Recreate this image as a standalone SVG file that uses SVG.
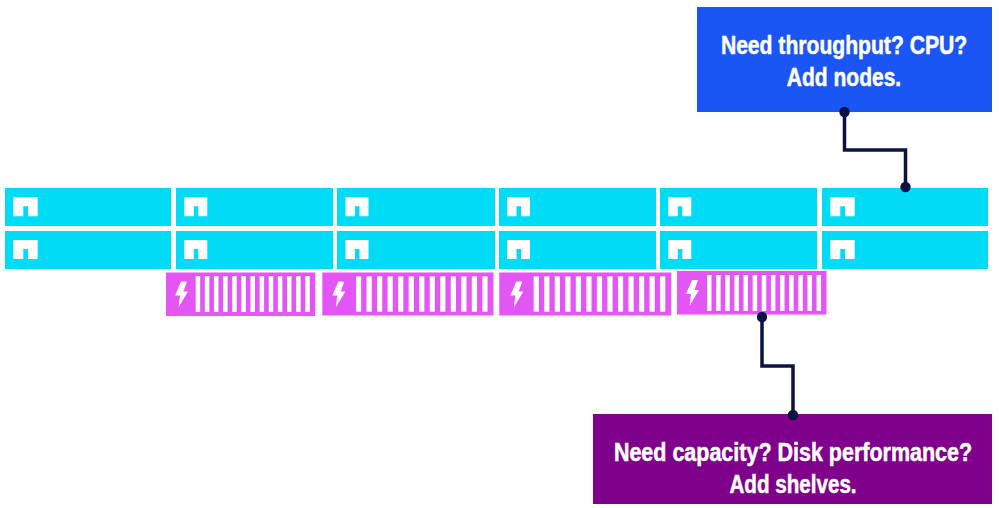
<svg xmlns="http://www.w3.org/2000/svg" width="999" height="508" viewBox="0 0 999 508">
<style>
.node{fill:#00dcf5}
.ico{fill:#fff}
.shelf{fill:#e356f5}
.w{fill:#fff}
.conn{fill:none;stroke:#0a1344;stroke-width:3.500}
.dot{fill:#0a1344}
.t{font-family:"Liberation Sans",Arial,sans-serif;font-weight:700;font-size:25px;fill:#fff;stroke:#fff;stroke-width:.5px;text-anchor:middle}
</style>
<defs>
<path id="i" d="M0 0H23V19H14V9H9.500V19H0Z"/>
<path id="iw" d="M0 0H24.400V19H14.700V9H10V19H0Z"/>
<path id="b" d="M6 0H12L8.500 10H13L3.500 26L5 14H0Z"/>
<path id="bars-s" d="M0 0h4.500v36h-4.500zM9.130 0h4.500v36h-4.500zM18.260 0h4.500v36h-4.500zM27.390 0h4.500v36h-4.500zM36.520 0h4.500v36h-4.500zM45.650 0h4.500v36h-4.500zM54.780 0h4.500v36h-4.500zM63.910 0h4.500v36h-4.500zM73.040 0h4.500v36h-4.500zM82.170 0h4.500v36h-4.500zM91.300 0h4.500v36h-4.500zM100.430 0h4.500v36h-4.500zM109.560 0h4.500v36h-4.500z"/>
<path id="bars-l" d="M0 0h5.200v35.500h-5.200zM10.530 0h5.200v35.500h-5.200zM21.060 0h5.200v35.500h-5.200zM31.590 0h5.200v35.500h-5.200zM42.120 0h5.200v35.500h-5.200zM52.650 0h5.200v35.500h-5.200zM63.180 0h5.200v35.500h-5.200zM73.710 0h5.200v35.500h-5.200zM84.240 0h5.200v35.500h-5.200zM94.770 0h5.200v35.500h-5.200zM105.300 0h5.200v35.500h-5.200zM115.830 0h5.200v35.500h-5.200zM126.360 0h5.200v35.500h-5.200z"/>
</defs>
<rect width="999" height="508" fill="#fff"/>
<g id="box-nodes"><rect x="697" y="7" width="295" height="105" fill="#1b55f5"/>
<text class="t" transform="translate(844 54) scale(.845 1)">Need throughput? CPU?</text>
<text class="t" transform="translate(844 86) scale(.84 1)">Add nodes.</text></g>
<g id="box-shelves"><rect x="593" y="414" width="399" height="90" fill="#7f008a"/>
<text class="t" transform="translate(793 461) scale(.86 1)">Need capacity? Disk performance?</text>
<text class="t" transform="translate(793 493) scale(.825 1)">Add shelves.</text></g>
<g id="n1"><rect class="node" x="5" y="188" width="166" height="38"/><use class="ico" href="#iw" x="13.300" y="197.300"/></g>
<g id="n2"><rect class="node" x="176" y="188" width="157" height="38"/><use class="ico" href="#i" x="184.300" y="197.300"/></g>
<g id="n3"><rect class="node" x="337" y="188" width="158" height="38"/><use class="ico" href="#i" x="345.500" y="197.300"/></g>
<g id="n4"><rect class="node" x="499" y="188" width="157" height="38"/><use class="ico" href="#i" x="507" y="197.300"/></g>
<g id="n5"><rect class="node" x="660" y="188" width="157" height="38"/><use class="ico" href="#i" x="668.300" y="197.300"/></g>
<g id="n6"><rect class="node" x="822" y="188" width="166" height="38"/><use class="ico" href="#iw" x="830.300" y="197.300"/></g>
<g id="n7"><rect class="node" x="5" y="231" width="166" height="38"/><use class="ico" href="#iw" x="13.300" y="240"/></g>
<g id="n8"><rect class="node" x="176" y="231" width="157" height="38"/><use class="ico" href="#i" x="184.300" y="240"/></g>
<g id="n9"><rect class="node" x="337" y="231" width="158" height="38"/><use class="ico" href="#i" x="345.500" y="240"/></g>
<g id="n10"><rect class="node" x="499" y="231" width="157" height="38"/><use class="ico" href="#i" x="507" y="240"/></g>
<g id="n11"><rect class="node" x="660" y="231" width="157" height="38"/><use class="ico" href="#i" x="668.300" y="240"/></g>
<g id="n12"><rect class="node" x="822" y="231" width="166" height="38"/><use class="ico" href="#iw" x="830.300" y="240"/></g>
<g id="s1"><rect class="shelf" x="166" y="272.500" width="149.300" height="43.500"/><use class="w" href="#b" x="175" y="281.500"/><use class="w" href="#bars-s" x="195.700" y="276"/></g>
<g id="s2"><rect class="shelf" x="322.300" y="272.500" width="171.200" height="43"/><use class="w" href="#b" x="332.300" y="281.500"/><use class="w" href="#bars-l" x="356" y="276.300"/></g>
<g id="s3"><rect class="shelf" x="499.300" y="272.500" width="172" height="43"/><use class="w" href="#b" x="510.300" y="281.500"/><use class="w" href="#bars-l" x="533.700" y="276.300"/></g>
<g id="s4"><rect class="shelf" x="677" y="271" width="149.500" height="43.500"/><use class="w" href="#b" x="686" y="280"/><use class="w" href="#bars-s" x="707" y="275"/></g>
<g id="connectors">
<path class="conn" d="M844.500 112V150H905.500V187"/><circle class="dot" cx="844.500" cy="112" r="5.200"/><circle class="dot" cx="905.500" cy="187" r="5.200"/>
<path class="conn" d="M762 317V366H793V415"/><circle class="dot" cx="762" cy="317" r="5.200"/><circle class="dot" cx="793" cy="415" r="5.200"/>
</g>
</svg>
